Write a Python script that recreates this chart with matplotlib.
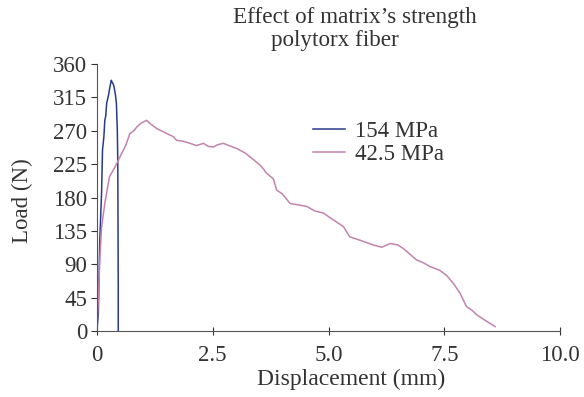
import matplotlib
matplotlib.use("Agg")
import matplotlib.pyplot as plt

plt.rcParams['font.family'] = ['Liberation Serif', 'DejaVu Serif']

# 154 MPa matrix (blue)
disp_154 = [0.0, 0.03, 0.06, 0.10, 0.12, 0.15, 0.17, 0.19, 0.21, 0.25, 0.28, 0.31, 0.33,
            0.35, 0.37, 0.40, 0.42, 0.44, 0.45, 0.46, 0.46]
load_154 = [0, 24, 120, 186, 244, 262, 284, 290, 307, 318, 329, 338, 335,
            333, 329, 318, 307, 270, 230, 60, 0]

# 42.5 MPa matrix (pink)
disp_425 = [0.0, 0.03, 0.065, 0.10, 0.17, 0.27, 0.39, 0.53, 0.62, 0.71, 0.80, 0.86, 0.95,
            1.07, 1.14, 1.29, 1.45, 1.58, 1.65, 1.72, 1.85, 2.01, 2.15, 2.30, 2.40,
            2.51, 2.60, 2.73, 2.85, 3.02, 3.20, 3.38, 3.55, 3.66, 3.81, 3.88, 4.00,
            4.17, 4.35, 4.53, 4.70, 4.89, 5.10, 5.32, 5.46, 5.70, 5.97, 6.15, 6.33,
            6.50, 6.62, 6.75, 6.90, 7.05, 7.19, 7.40, 7.55, 7.70, 7.84, 7.98, 8.10,
            8.20, 8.42, 8.60]
load_425 = [5, 42, 100, 140, 172, 208, 221, 239, 250, 266, 270, 275, 280,
            284, 280, 273, 268, 264, 262, 257, 256, 253, 250, 253, 249,
            248, 251, 253, 250, 246, 240, 231, 222, 213, 205, 190, 185,
            172, 170, 168, 162, 159, 150, 141, 127, 122, 116, 113, 118,
            116, 111, 104, 96, 92, 87, 82, 75, 64, 51, 33, 28,
            22, 13, 6]

x_ticks = [0, 2.5, 5.0, 7.5, 10.0]
x_tick_labels = ['0', '2.5', '5.0', '7.5', '10.0']
y_ticks = [0, 45, 90, 135, 180, 225, 270, 315, 360]

fig = plt.figure(figsize=(5.84, 3.97), dpi=100)
ax = fig.add_axes([0.166, 0.166, 0.793, 0.673])

ax.plot(disp_154, load_154, color='#2a3a8e', lw=1.1, label='154 MPa')
ax.plot(disp_425, load_425, color='#c483ac', lw=1.1, label='42.5 MPa')

ax.set_xlim(0, 10.0)
ax.set_ylim(0, 360)
ax.set_xticks(x_ticks)
ax.set_xticklabels(x_tick_labels)
ax.set_yticks(y_ticks)
ax.tick_params(labelsize=16.5, colors='#333333', length=4)
ax.tick_params(axis='x', direction='inout', length=6, pad=7)
ax.tick_params(axis='y', pad=3)
for s in ['top', 'right']:
    ax.spines[s].set_visible(False)
for s in ['left', 'bottom']:
    ax.spines[s].set_color('#555555')

ax.set_xlabel('Displacement (mm)', fontsize=17, color='#333333')
ax.xaxis.set_label_coords(0.549, -0.14)
ax.set_ylabel('Load (N)', fontsize=16.5, color='#333333')
ax.yaxis.set_label_coords(-0.138, 0.49)

fig.text(0.608, 0.955, "Effect of matrix\u2019s strength", ha='center',
         va='center', fontsize=16.7, color='#333333')
fig.text(0.574, 0.899, "polytorx fiber", ha='center',
         va='center', fontsize=16.7, color='#333333')

ax.legend(loc='upper left', bbox_to_anchor=(0.517, 0.723), bbox_transform=fig.transFigure,
          frameon=False, fontsize=16.5, handlelength=1.4, handletextpad=0.4,
          labelspacing=0.05, borderpad=0, labelcolor='#333333')

fig.savefig('out.png', dpi=100)
